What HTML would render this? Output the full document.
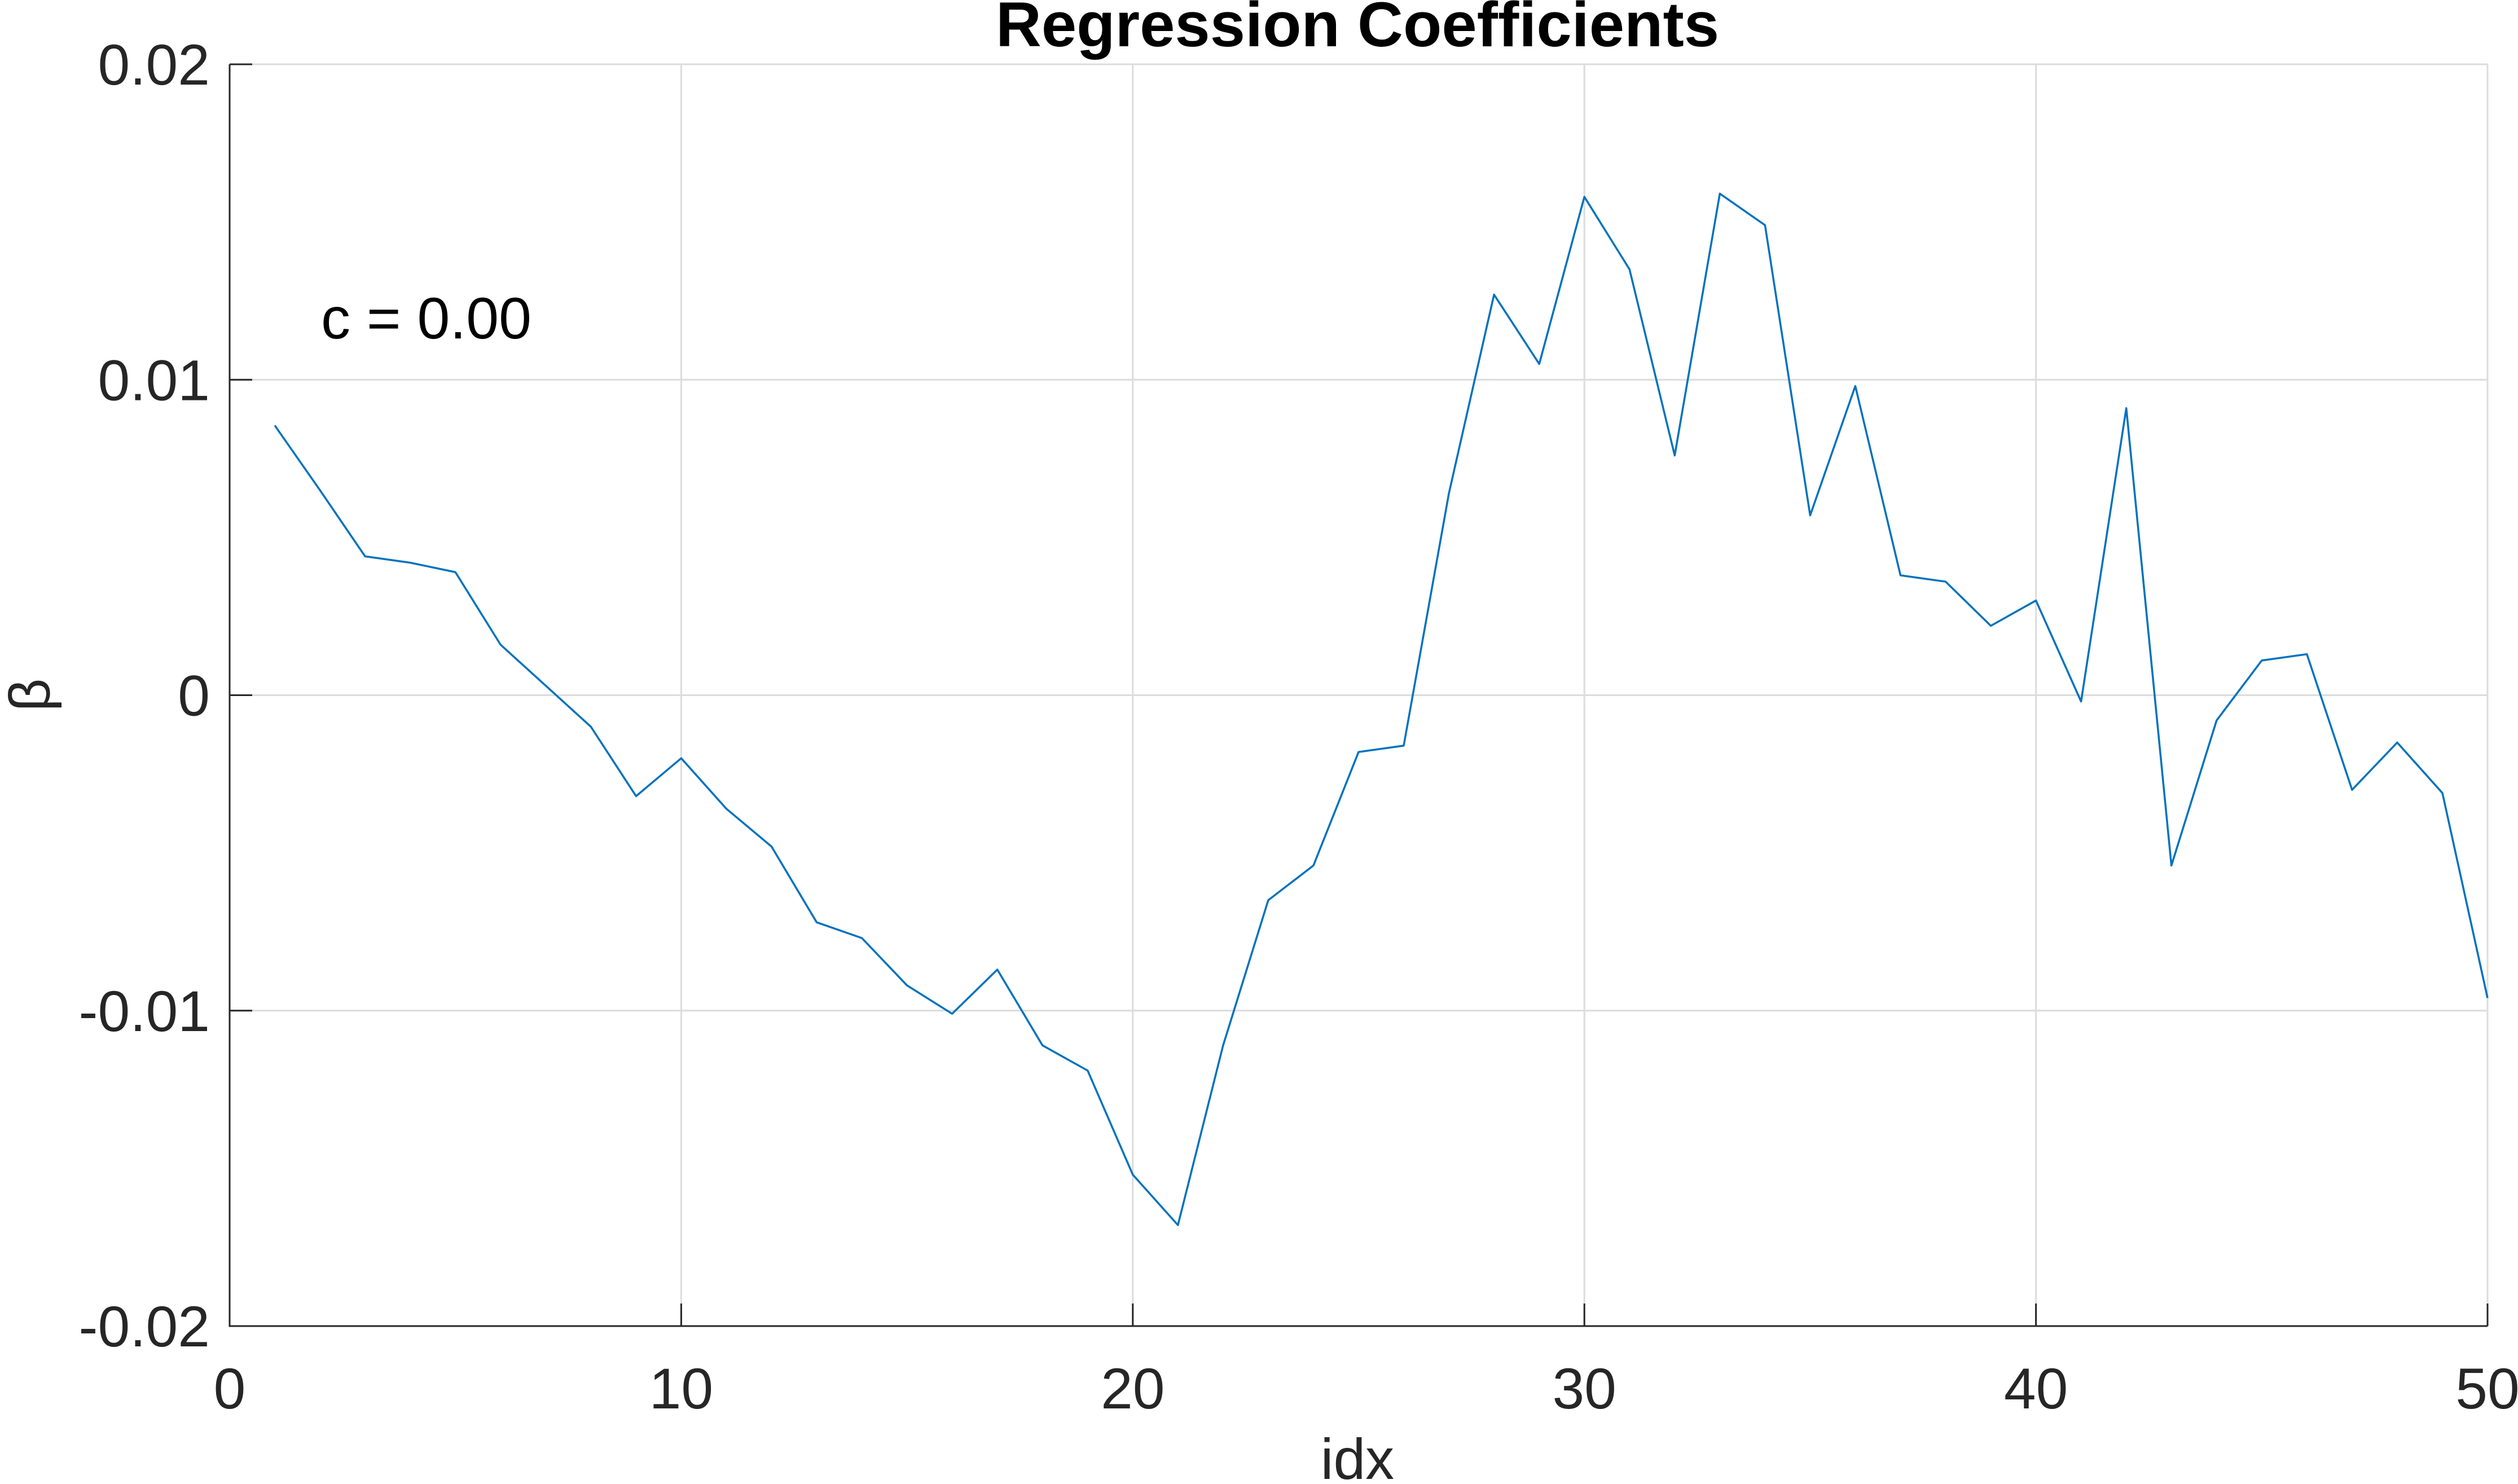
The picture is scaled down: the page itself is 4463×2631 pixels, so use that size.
<!DOCTYPE html>
<html><head><meta charset="utf-8"><style>
html,body{margin:0;padding:0;background:#fff;}
svg{display:block;font-family:"Liberation Sans",sans-serif;}
</style></head><body>
<svg id="chart" width="4463" height="2631" viewBox="0 0 4463 2631">
<g id="grid"></g>
<g id="axes"></g>
<g id="series"></g>
<text x="2406" y="82" text-anchor="middle" font-size="112" font-weight="bold" fill="#000">Regression Coefficients</text>
<text x="2406" y="2622" text-anchor="middle" font-size="102" fill="#262626">idx</text>
<text x="88" y="1232" text-anchor="middle" font-size="102" fill="#262626" transform="rotate(-90 88 1232)">β</text>
<text x="569" y="600" font-size="104" fill="#000">c = 0.00</text>
</svg>
<script>
const xTicks=[0,10,20,30,40,50];
const yTicks=[-0.02,-0.01,0,0.01,0.02];
const yTickLabels=["-0.02","-0.01","0","0.01","0.02"];
const idx=[1,2,3,4,5,6,7,8,9,10,11,12,13,14,15,16,17,18,19,20,21,22,23,24,25,26,27,28,29,30,31,32,33,34,35,36,37,38,39,40,41,42,43,44,45,46,47,48,49,50];
const beta=[0.00855,0.0065,0.0044,0.0042,0.0039,0.0016,0.0003,-0.0010,-0.0032,-0.0020,-0.0036,-0.0048,-0.0072,-0.0077,-0.0092,-0.0101,-0.0087,-0.0111,-0.0119,-0.0152,-0.0168,-0.0111,-0.0065,-0.0054,-0.0018,-0.0016,0.0064,0.0127,0.0105,0.0158,0.0135,0.0076,0.0159,0.0149,0.0057,0.0098,0.0038,0.0036,0.0022,0.0030,-0.0002,0.0091,-0.0054,-0.0008,0.0011,0.0013,-0.0030,-0.0015,-0.0031,-0.0096];
const L=407,R=4409,T=114,B=2351;
const sx=v=>L+(v-0)/(50-0)*(R-L);
const sy=v=>B-(v+0.02)/0.04*(B-T);
const NS="http://www.w3.org/2000/svg";
function mk(tag,attrs,parent){const e=document.createElementNS(NS,tag);for(const k in attrs)e.setAttribute(k,attrs[k]);parent.appendChild(e);return e;}
const grid=document.getElementById('grid'),axes=document.getElementById('axes'),series=document.getElementById('series');
xTicks.forEach(t=>{
 const g=mk('line',{x1:sx(t),x2:sx(t),y1:T,y2:B,stroke:'#dcdcdc','stroke-width':3},grid);
 
 
 const tk=mk('line',{x1:sx(t),x2:sx(t),y1:B,y2:B-40,stroke:'#262626','stroke-width':3},axes);
 
 
 const lb=mk('text',{x:sx(t),y:2497,'text-anchor':'middle','font-size':102,fill:'#262626'},axes);
 lb.textContent=String(t);
 
 
});
yTicks.forEach((t,i)=>{
 const g=mk('line',{x1:L,x2:R,y1:sy(t),y2:sy(t),stroke:'#dcdcdc','stroke-width':3},grid);
 
 
 const tk=mk('line',{x1:L,x2:L+40,y1:sy(t),y2:sy(t),stroke:'#262626','stroke-width':3},axes);
 
 
 const lb=mk('text',{x:372,y:sy(t)+36,'text-anchor':'end','font-size':102,fill:'#262626'},axes);
 lb.textContent=yTickLabels[i];
 
 
});
const ax=mk('path',{d:`M${L},${T}V${B}H${R}`,fill:'none',stroke:'#262626','stroke-width':3},axes);


const pts=idx.map((x,i)=>sx(x).toFixed(1)+','+sy(beta[i]).toFixed(1)).join(' ');
const pl=mk('polyline',{points:pts,fill:'none',stroke:'#0072bd','stroke-width':3.5,'stroke-linejoin':'round'},series);


</script>
</body></html>
